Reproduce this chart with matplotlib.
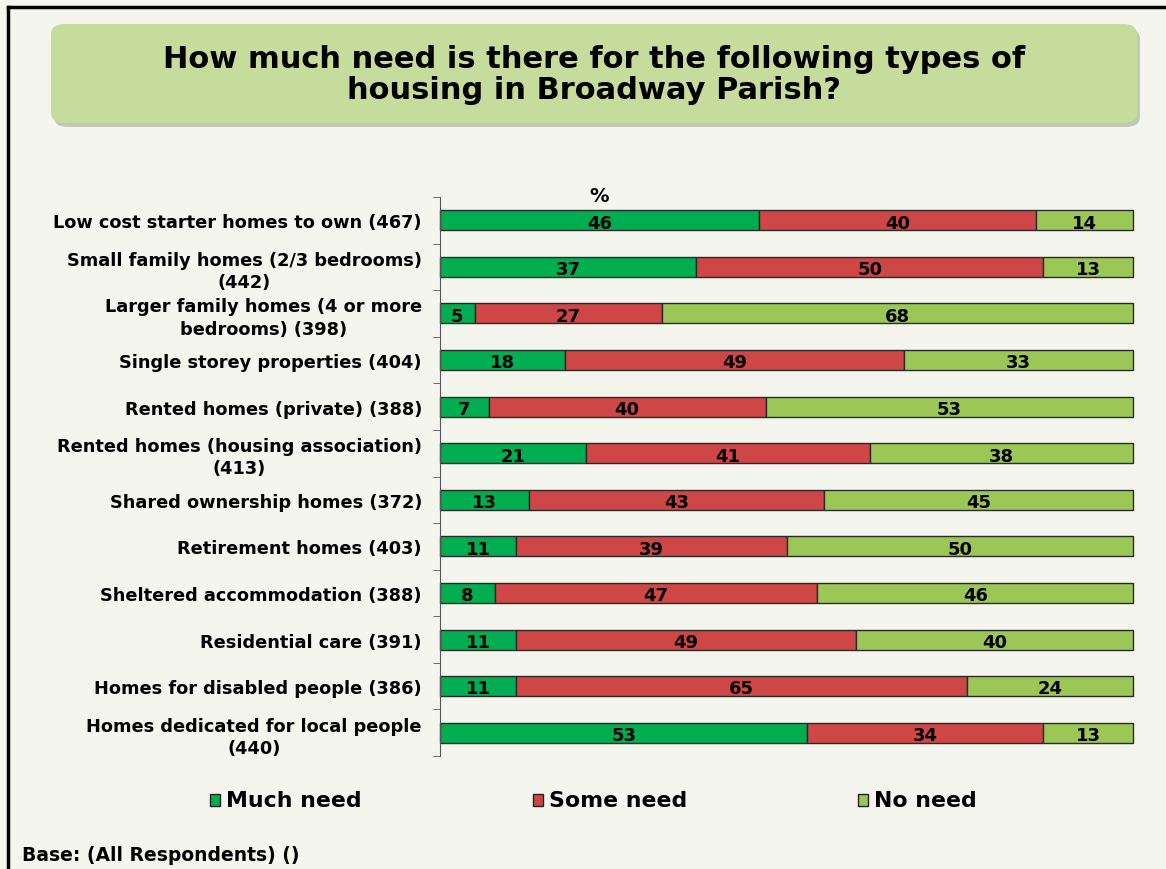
import matplotlib
matplotlib.use("Agg")
import matplotlib.pyplot as plt
from matplotlib.patches import FancyBboxPatch, Rectangle
import numpy as np

categories = [
    "Low cost starter homes to own (467)",
    "Small family homes (2/3 bedrooms)\n(442)",
    "Larger family homes (4 or more\nbedrooms) (398)",
    "Single storey properties (404)",
    "Rented homes (private) (388)",
    "Rented homes (housing association)\n(413)",
    "Shared ownership homes (372)",
    "Retirement homes (403)",
    "Sheltered accommodation (388)",
    "Residential care (391)",
    "Homes for disabled people (386)",
    "Homes dedicated for local people\n(440)",
]
much_need = [46, 37, 5, 18, 7, 21, 13, 11, 8, 11, 11, 53]
some_need = [40, 50, 27, 49, 40, 41, 43, 39, 47, 49, 65, 34]
no_need = [14, 13, 68, 33, 53, 38, 45, 50, 46, 40, 24, 13]
series_names = ["Much need", "Some need", "No need"]
colors = ["#00ad50", "#cf4646", "#9bc756"]

title = "How much need is there for the following types of\nhousing in Broadway Parish?"
footnote = "Base: (All Respondents) ()"

BG = "#f4f6ee"
plt.rcParams['font.family'] = ['DejaVu Sans']

fig = plt.figure(figsize=(11.66, 8.7), dpi=100)
fig.patch.set_facecolor(BG)
W, H = 1166, 870

def fx(px):
    return px / W

def fy(py):
    return 1 - py / H

# outer frame lines (top and left)
fig.add_artist(plt.Line2D([fx(8), 1.0], [fy(8), fy(8)], color="black", lw=2.5, transform=fig.transFigure))
fig.add_artist(plt.Line2D([fx(8), fx(8)], [fy(8), 0.0], color="black", lw=2.5, transform=fig.transFigure))

# title box with shadow
shadow = FancyBboxPatch((fx(54), fy(128)), fx(1086), (125 - 27) / H,
                        boxstyle="round,pad=0,rounding_size=0.012",
                        transform=fig.transFigure, facecolor="#a0a896", edgecolor="none", alpha=0.6)
fig.add_artist(shadow)
box = FancyBboxPatch((fx(51), fy(124)), fx(1086), (124 - 25) / H,
                     boxstyle="round,pad=0,rounding_size=0.012",
                     transform=fig.transFigure, facecolor="#c6dc9c", edgecolor="none")
fig.add_artist(box)
fig.text(fx(594), fy(75), title, ha="center", va="center", fontsize=22, fontweight="bold",
         linespacing=1.12, color="black")

ax = fig.add_axes([fx(440), fy(757), fx(1133) - fx(440), (757 - 198) / H])
ax.set_facecolor(BG)

data = np.array([much_need, some_need, no_need], dtype=float)
totals = data.sum(axis=0)
frac = data / totals * 100
y = np.arange(len(categories))
left = np.zeros(len(categories))
for i in range(3):
    bars = ax.barh(y, frac[i], left=left, height=0.43, color=colors[i], edgecolor="#2a2a2a",
                   linewidth=1.0, label=series_names[i], clip_on=False)
    for j, b in enumerate(bars):
        ax.text(left[j] + frac[i][j] / 2, y[j] + 0.05, f"{int(data[i][j])}", ha="center", va="center",
                fontsize=13, fontweight="bold", color="black")
    left += frac[i]

ax.set_xlim(0, 100)
ax.set_ylim(len(categories) - 0.5, -0.5)
ax.set_yticks(y)
ax.set_yticklabels(categories, fontsize=12.8, fontweight="bold", multialignment="center",
                   linespacing=1.3)
ax.set_yticks(np.arange(-0.5, len(categories), 1), minor=True)
ax.tick_params(axis="y", which="major", length=0, pad=13)
ax.tick_params(axis="y", which="minor", length=5, color="#555555")
ax.set_xticks([])
for s in ["top", "right", "bottom"]:
    ax.spines[s].set_visible(False)
ax.spines["left"].set_color("#555555")

ax.text(much_need[0] / 2 * 100 / totals[0], -0.53, "%", ha="center", va="center",
        fontsize=14, fontweight="bold")

# legend
handles, labels = ax.get_legend_handles_labels()
leg_x = [210, 533, 858]
for lab, xx, c in zip(labels, leg_x, colors):
    fig.add_artist(Rectangle((fx(xx), fy(807)), 10 / W, 12 / H, transform=fig.transFigure,
                             facecolor=c, edgecolor="#222222", lw=1))
    fig.text(fx(xx + 16), fy(801), lab, ha="left", va="center", fontsize=15.8, fontweight="bold")

fig.text(fx(22), fy(856), footnote, ha="left", va="center", fontsize=13.5, fontweight="bold")

fig.savefig("out.png", dpi=100, facecolor=BG)
